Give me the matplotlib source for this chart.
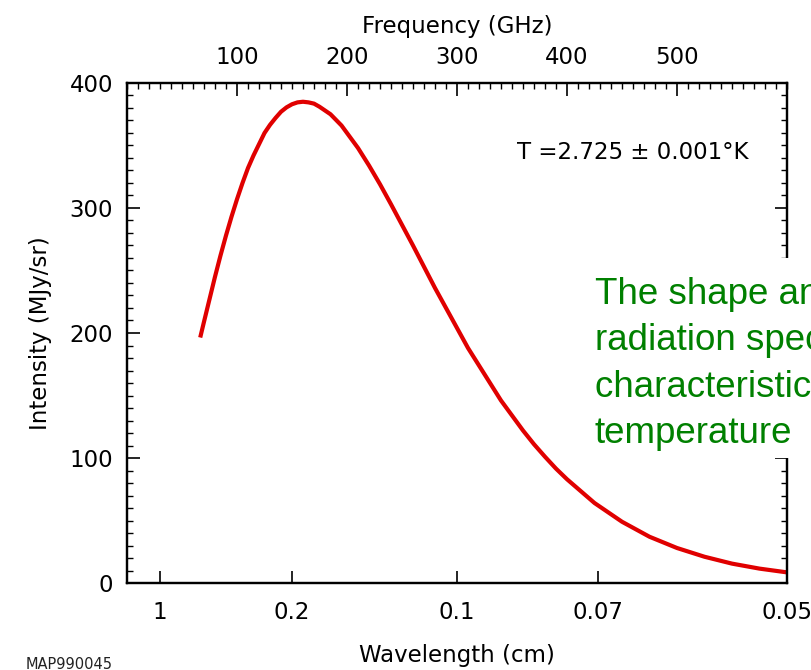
import matplotlib.pyplot as plt
from matplotlib.patches import Rectangle
from matplotlib.ticker import MultipleLocator

# curve: frequency (GHz) vs intensity (MJy/sr)
freq = [67, 70, 75, 80, 85, 90, 95, 100, 105, 110, 115, 120, 125, 130, 135,
        140, 145, 150, 155, 160, 165, 170, 175, 180, 185, 190, 195, 200, 210,
        220, 230, 240, 250, 260, 270, 280, 290, 300, 310, 320, 330, 340, 350,
        360, 370, 380, 390, 400, 425, 450, 475, 500, 525, 550, 575, 600]
intensity = [198, 209, 227, 245, 262, 278, 293, 307, 320, 332, 342, 351, 360,
             366.5, 372, 377, 380.5, 383, 384.5, 385, 384.5, 383.5, 381, 378,
             375, 370.5, 366, 360, 348, 334, 319, 303, 286.5, 270, 253, 236,
             220, 204, 188, 174, 160, 146, 134, 122, 111, 101, 91.5, 83, 64,
             49, 37, 28, 21, 15.5, 11.5, 8.5]

# bottom axis: wavelength labels sit at c / lambda
wl_pos = [30, 150, 300, 428.6, 600]
wl_labels = ["1", "0.2", "0.1", "0.07", "0.05"]
freq_ticks = [100, 200, 300, 400, 500]
y_ticks = [0, 100, 200, 300, 400]

W, H = 812, 670
fig = plt.figure(figsize=(W / 100, H / 100), dpi=100)
ax = fig.add_axes([127 / W, (H - 583) / H, 660 / W, 500 / H])

ax.plot(freq, intensity, color="#e00000", lw=3.0, solid_joinstyle="round")
ax.set_xlim(0, 600)
ax.set_ylim(0, 400)

fs = 16.5
ax.set_xticks(wl_pos)
ax.set_xticklabels(wl_labels)
ax.set_yticks(y_ticks)
ax.yaxis.set_minor_locator(MultipleLocator(10))
ax.tick_params(axis="x", which="major", direction="in", length=9, width=1.2,
               labelsize=fs, pad=13, top=False)
ax.tick_params(axis="y", which="major", direction="in", length=9, width=1.2,
               labelsize=fs, pad=10, right=True)
ax.tick_params(axis="y", which="minor", direction="in", length=4.5, width=1.0,
               right=True)
for s in ax.spines.values():
    s.set_linewidth(1.6)

ax.set_xlabel("Wavelength (cm)", fontsize=fs)
ax.xaxis.set_label_coords(0.5, -0.122)
ax.set_ylabel("Intensity (MJy/sr)", fontsize=fs)
ax.yaxis.set_label_coords(-0.114, 0.5)

ax2 = ax.twiny()
ax2.set_xlim(0, 600)
ax2.set_xticks(freq_ticks)
ax2.xaxis.set_minor_locator(MultipleLocator(10))
ax2.tick_params(axis="x", which="major", direction="in", length=9, width=1.2,
                labelsize=fs, pad=10)
ax2.tick_params(axis="x", which="minor", direction="in", length=4.5, width=1.0)
ax2.set_xlabel("Frequency (GHz)", fontsize=fs)
ax2.xaxis.set_label_coords(0.5, 1.1)
for s in ax2.spines.values():
    s.set_linewidth(1.6)

ax.text(0.591, 0.86, "T =2.725 \u00b1 0.001\u00b0K", transform=ax.transAxes,
        fontsize=fs, va="center", ha="left")

# white box with the green note, cut by the figure edge as in the source
fig.patches.append(Rectangle((585 / W, (H - 458) / H), 300 / W, 200 / H,
                             transform=fig.transFigure, facecolor="white",
                             edgecolor="none", zorder=5))
fig.text(595 / W, (H - 277) / H,
         "The shape and peak of the\nradiation spectrum is\n"
         "characteristic of the\ntemperature",
         color="#008000", fontsize=26.5, family="Liberation Sans",
         va="top", ha="left", linespacing=1.42, zorder=6)

fig.text(26 / W, (H - 657) / H, "MAP990045", fontsize=10.5, color="#222222",
         va="top", ha="left")

fig.savefig("out.png", dpi=100)
